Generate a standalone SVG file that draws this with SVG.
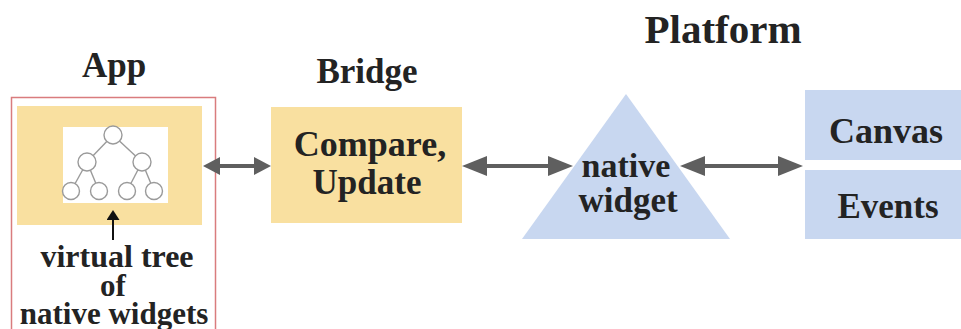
<svg xmlns="http://www.w3.org/2000/svg" width="961" height="329" viewBox="0 0 961 329">
  <style>
    .lbl { font-family: "Liberation Serif", "DejaVu Serif", "Times New Roman", serif; font-weight: bold; fill: #232323; text-anchor: middle; }
    .yellow { fill: #f9e0a0; }
    .blue { fill: #c8d7f0; }
    .conn { stroke: #5f5f5f; stroke-width: 4; fill: none; }
    .edge { stroke: #9a9a9a; stroke-width: 1.4; }
    .vnode { fill: #ffffff; stroke: #9a9a9a; stroke-width: 1.4; }
  </style>
  <defs>
    <marker id="headS" viewBox="0 0 17 18" refX="7" refY="9" markerWidth="17" markerHeight="18" markerUnits="userSpaceOnUse" orient="auto-start-reverse">
      <path d="M0,0 L17,9 L0,18 z" fill="#5f5f5f"/>
    </marker>
    <marker id="headL" viewBox="0 0 25 20" refX="10" refY="10" markerWidth="25" markerHeight="20" markerUnits="userSpaceOnUse" orient="auto-start-reverse">
      <path d="M0,0 L25,10 L0,20 z" fill="#5f5f5f"/>
    </marker>
    <marker id="headK" viewBox="0 0 10 13" refX="3" refY="6.5" markerWidth="10" markerHeight="13" markerUnits="userSpaceOnUse" orient="auto">
      <path d="M0,0 L10,6.5 L0,13 z" fill="#111"/>
    </marker>
  </defs>

  <!-- column titles -->
  <text class="lbl" x="114" y="77" font-size="35">App</text>
  <text class="lbl" x="367" y="83" font-size="35">Bridge</text>
  <text class="lbl" x="723" y="43" font-size="41">Platform</text>

  <!-- App: virtual tree of native widgets -->
  <g id="app">
    <rect x="11.5" y="97.5" width="204" height="240" fill="none" stroke="#d97c7e" stroke-width="1.5"/>
    <rect class="yellow" x="17" y="106" width="185" height="119"/>
    <rect x="63" y="127" width="105" height="76" fill="#ffffff"/>
    <g id="vtree">
      <line class="edge" x1="113" y1="135" x2="87" y2="162"/>
      <line class="edge" x1="113" y1="135" x2="142" y2="162"/>
      <line class="edge" x1="87" y1="162" x2="71" y2="191"/>
      <line class="edge" x1="87" y1="162" x2="99" y2="191"/>
      <line class="edge" x1="142" y1="162" x2="127" y2="191"/>
      <line class="edge" x1="142" y1="162" x2="154" y2="191"/>
      <circle class="vnode" cx="113" cy="135" r="9"/>
      <circle class="vnode" cx="87" cy="162" r="9"/>
      <circle class="vnode" cx="142" cy="162" r="9"/>
      <circle class="vnode" cx="71" cy="191" r="8.5"/>
      <circle class="vnode" cx="99" cy="191" r="8.5"/>
      <circle class="vnode" cx="127" cy="191" r="8.5"/>
      <circle class="vnode" cx="154" cy="191" r="8.5"/>
    </g>
    <line x1="113" y1="240" x2="113" y2="217" stroke="#111" stroke-width="2" marker-end="url(#headK)"/>
    <text class="lbl" x="117" y="267" font-size="32">virtual tree</text>
    <text class="lbl" x="113" y="296" font-size="31">of</text>
    <text class="lbl" x="114" y="324" font-size="31">native widgets</text>
  </g>

  <!-- Bridge -->
  <g id="bridge">
    <rect class="yellow" x="271" y="107" width="191" height="116"/>
    <text class="lbl" x="370" y="156" font-size="36">Compare,</text>
    <text class="lbl" x="367" y="194" font-size="35">Update</text>
  </g>

  <!-- Platform: native widget -->
  <g id="native-widget">
    <polygon class="blue" points="626,94 522,239 730,239"/>
    <text class="lbl" x="626" y="177" font-size="34">native</text>
    <text class="lbl" x="628" y="212" font-size="35">widget</text>
  </g>

  <g id="canvas">
    <rect class="blue" x="805" y="90" width="160" height="70"/>
    <text class="lbl" x="886" y="143" font-size="36">Canvas</text>
  </g>

  <g id="events">
    <rect class="blue" x="805" y="170" width="160" height="69"/>
    <text class="lbl" x="888" y="218" font-size="35">Events</text>
  </g>

  <!-- connectors -->
  <g id="connectors">
    <line class="conn" x1="213" y1="166" x2="261" y2="166" marker-start="url(#headS)" marker-end="url(#headS)"/>
    <line class="conn" x1="477" y1="166" x2="558" y2="166" marker-start="url(#headL)" marker-end="url(#headL)"/>
    <line class="conn" x1="695" y1="166" x2="788" y2="166" marker-start="url(#headL)" marker-end="url(#headL)"/>
  </g>
</svg>
